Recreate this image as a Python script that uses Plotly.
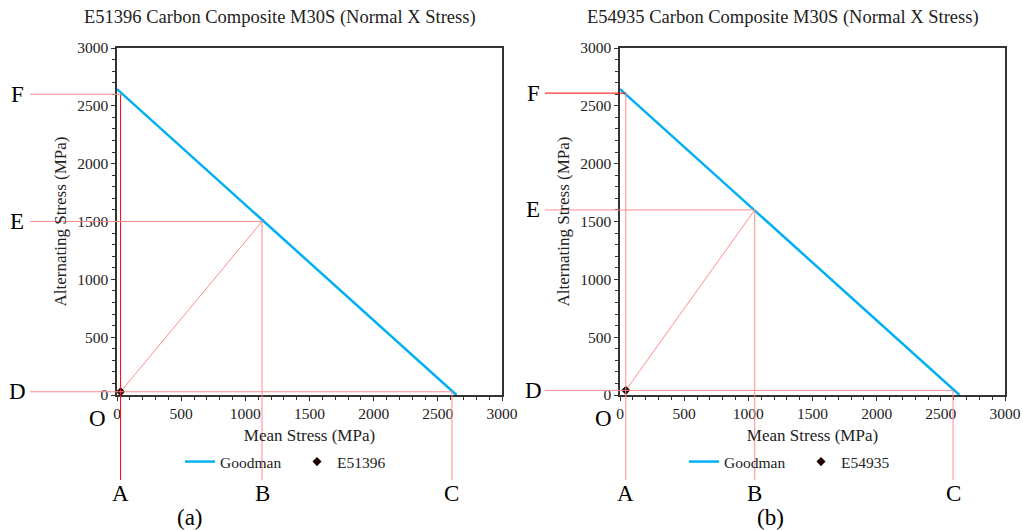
import plotly.graph_objects as go
from plotly.subplots import make_subplots

# ---- data ----
titles = ["E51396 Carbon Composite M30S (Normal X Stress)",
          "E54935 Carbon Composite M30S (Normal X Stress)"]
series_names = ["E51396", "E54935"]
goodman_x = [[0, 2645], [0, 2645]]
goodman_y = [[2645, 0], [2645, 0]]
point_x = [28, 45]
point_y = [28, 40]
guide_B = [1130, 1050]     # mean stress at E on Goodman line
guide_E = [1500, 1600]     # alternating stress at B
guide_C = [2610, 2595]
guide_F = [2600, 2610]
panel_labels = ["(a)", "(b)"]
tick_vals = [0, 500, 1000, 1500, 2000, 2500, 3000]

W, H = 1023, 530
FONT = "Liberation Serif"
BLUE = "#00B0F0"
RED = "#FF0000"
PINK = "#FF8C8C"

fig = make_subplots(rows=1, cols=2, horizontal_spacing=0.1)

x_dom = [[117 / W, 502 / W], [620 / W, 1005 / W]]
y_dom = [1 - 395 / H, 1 - 48 / H]
ext_left = [-0.226, -0.195]
ext_down = -0.245
letter_x_px = [17, 533]
o_x_px = [97, 603]
panel_lab_px = [190, 770]
legend_x_px = [180, 684]


def ann(**kw):
    kw.setdefault("xanchor", "center")
    kw.setdefault("yanchor", "middle")
    fig.add_annotation(showarrow=False, **kw)


for i in range(2):
    c = i + 1
    xa = "x" if i == 0 else "x2"
    ya = "y" if i == 0 else "y2"
    fig.add_trace(go.Scatter(x=goodman_x[i], y=goodman_y[i], mode="lines",
                             line=dict(color=BLUE, width=2.5), name="Goodman",
                             legend="legend" if i == 0 else "legend2"), row=1, col=c)
    # diagonal load line
    fig.add_trace(go.Scatter(x=[point_x[i], guide_B[i]], y=[point_y[i], guide_E[i]],
                             mode="lines", line=dict(color=PINK, width=1),
                             showlegend=False, hoverinfo="skip"), row=1, col=c)
    fig.add_trace(go.Scatter(x=[point_x[i]], y=[point_y[i]], mode="markers",
                             marker=dict(symbol="diamond", size=7, color="#200000"),
                             name=series_names[i], cliponaxis=False,
                             legend="legend" if i == 0 else "legend2"), row=1, col=c)

    colA = RED if i == 0 else PINK
    colF = PINK if i == 0 else RED
    # vertical guides: inside plot + extension below
    for xv, ytop, col in [(point_x[i], guide_F[i], colA), (guide_B[i], guide_E[i], PINK),
                          (guide_C[i], point_y[i], PINK)]:
        fig.add_shape(type="line", xref=xa, yref=ya, x0=xv, x1=xv, y0=0, y1=ytop,
                      line=dict(color=col, width=1))
        fig.add_shape(type="line", xref=xa, yref=ya + " domain", x0=xv, x1=xv,
                      y0=0, y1=ext_down, line=dict(color=col, width=1))
    # horizontal guides: inside plot + extension left
    for yv, xend, col in [(guide_F[i], point_x[i], colF), (guide_E[i], guide_B[i], PINK),
                          (point_y[i], guide_C[i], PINK)]:
        fig.add_shape(type="line", xref=xa, yref=ya, x0=0, x1=xend, y0=yv, y1=yv,
                      line=dict(color=col, width=1))
        fig.add_shape(type="line", xref=xa + " domain", yref=ya, x0=ext_left[i], x1=0,
                      y0=yv, y1=yv, line=dict(color=col, width=1))

    big = dict(family=FONT, size=23, color="black")
    for txt, yv in [("F", guide_F[i]), ("E", guide_E[i]), ("D", point_y[i])]:
        ann(text=txt, xref="paper", yref=ya, x=letter_x_px[i] / W, y=yv, font=big)
    for txt, xv in [("A", point_x[i]), ("B", guide_B[i]), ("C", guide_C[i])]:
        ann(text=txt, xref=xa, yref="paper", x=xv, y=1 - 493 / H, font=big)
    ann(text="O", xref="paper", yref="paper", x=o_x_px[i] / W, y=1 - 418 / H, font=big)
    ann(text=panel_labels[i], xref="paper", yref="paper",
        x=panel_lab_px[i] / W, y=1 - 517 / H, font=big)
    ann(text=titles[i], xref="paper", yref="paper",
        x=(x_dom[i][0] + x_dom[i][1]) / 2 - 30 / W, y=1 - 18 / H,
        font=dict(family=FONT, size=18.5, color="#222"))

    axis_common = dict(range=[0, 3000], tickvals=tick_vals, showgrid=False, zeroline=False,
                       showline=True, linecolor="#333", linewidth=1.5, mirror=True,
                       ticks="outside", ticklen=4, tickcolor="#333", automargin=False,
                       minor=dict(dtick=100, ticks="outside", ticklen=3, tickcolor="#333"),
                       tickfont=dict(family=FONT, size=15.5, color="#222"))
    fig.update_xaxes(**axis_common, domain=x_dom[i],
                     title=dict(text="Mean Stress (MPa)", standoff=8,
                                font=dict(family=FONT, size=17, color="#222")),
                     row=1, col=c)
    fig.update_yaxes(**axis_common, domain=y_dom,
                     title=dict(text="Alternating Stress (MPa)", standoff=6,
                                font=dict(family=FONT, size=17, color="#222")),
                     row=1, col=c)

leg_common = dict(orientation="h", yanchor="middle", y=1 - 462 / H, xanchor="left",
                  font=dict(family=FONT, size=15.5, color="#222"), bgcolor="rgba(0,0,0,0)",
                  itemwidth=30, tracegroupgap=0, entrywidth=72, entrywidthmode="pixels")
fig.update_layout(
    width=W, height=H, margin=dict(l=0, r=0, t=0, b=0, autoexpand=False),
    paper_bgcolor="white", plot_bgcolor="white",
    font=dict(family=FONT),
    legend=dict(**leg_common, x=legend_x_px[0] / W),
    legend2=dict(**leg_common, x=legend_x_px[1] / W),
)

fig.write_html("out.html", config={"displayModeBar": False},
               post_script="document.body.style.margin='0';")
